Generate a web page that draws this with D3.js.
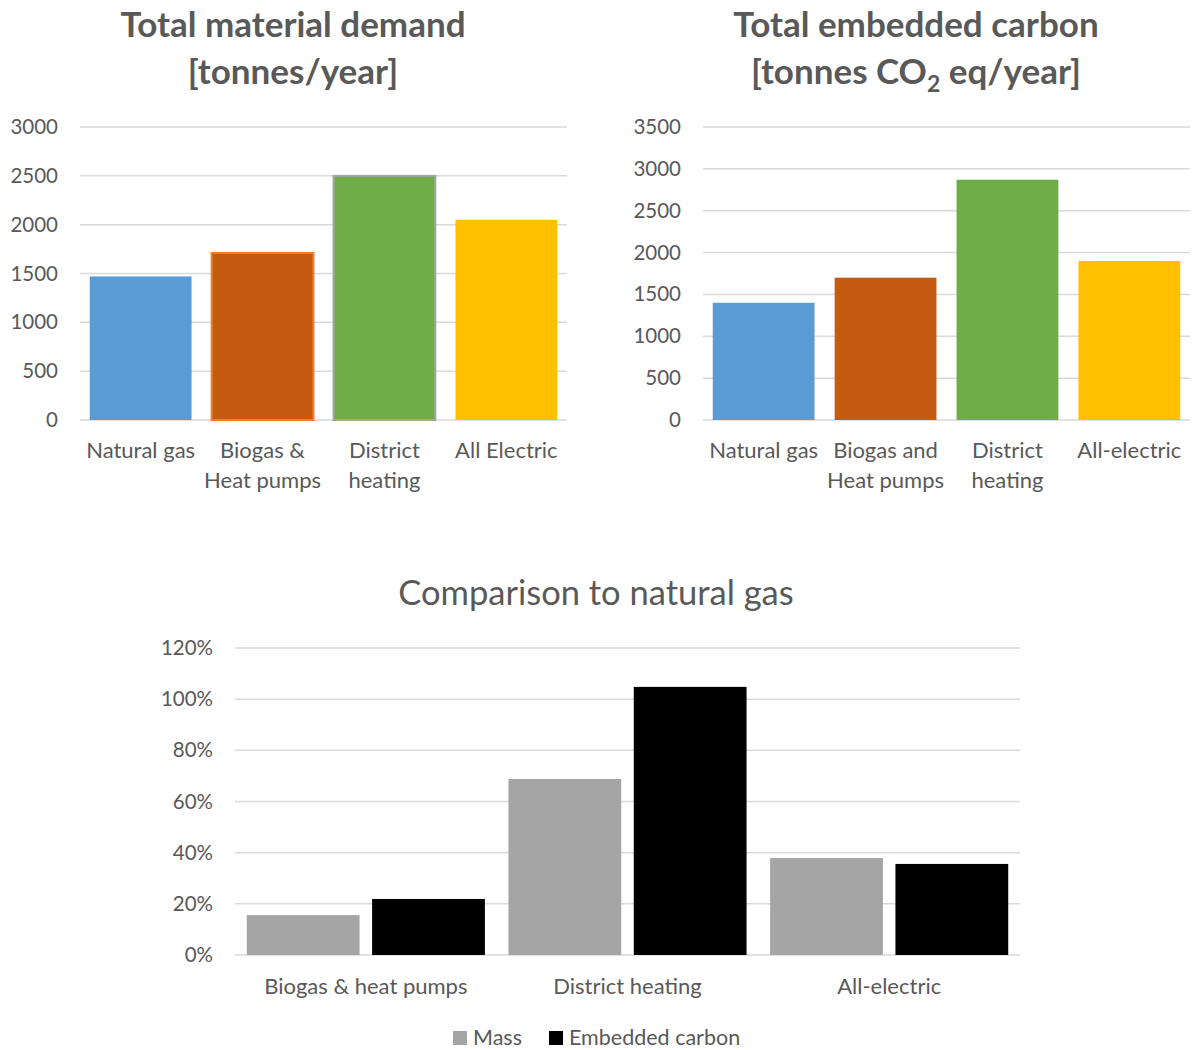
<!DOCTYPE html>
<html>
<head>
<meta charset="utf-8">
<script src="https://cdn.jsdelivr.net/npm/d3@7"></script>
<style>
  html, body { margin: 0; padding: 0; background: #fff; }
  svg { display: block; font-family: Lato, "Open Sans", sans-serif; }
</style>
</head>
<body>
<svg id="chart" width="1192" height="1050"></svg>
<script>
// Heating options and their annual totals
const demandCategories = [["Natural gas"], ["Biogas &", "Heat pumps"], ["District", "heating"], ["All Electric"]];
const demandValues = [1470, 1710, 2500, 2050];
const demandTicks = [0, 500, 1000, 1500, 2000, 2500, 3000];

const carbonCategories = [["Natural gas"], ["Biogas and", "Heat pumps"], ["District", "heating"], ["All-electric"]];
const carbonValues = [1400, 1700, 2870, 1900];
const carbonTicks = [0, 500, 1000, 1500, 2000, 2500, 3000, 3500];

const optionFills = ["#5B9BD5", "#C55A11", "#70AD47", "#FFC000"];
const demandStrokes = ["none", "#ED7D31", "#A5A5A5", "none"];
const carbonStrokes = ["none", "none", "none", "none"];

// Relative to natural gas
const comparisonCategories = ["Biogas & heat pumps", "District heating", "All-electric"];
const seriesNames = ["Mass", "Embedded carbon"];
const massShare = [0.156, 0.688, 0.379];
const carbonShare = [0.219, 1.048, 0.356];
const shareTicks = [0, 0.2, 0.4, 0.6, 0.8, 1.0, 1.2];
const seriesColors = ["#A5A5A5", "#000000"];

const svg = d3.select("#chart");
const textColor = "#595959";
const gridColor = "#D9D9D9";

function barPanel({ left, right, top, bottom, categories, values, ticks, strokes, titleLines, titleX, subscript }) {
  const g = svg.append("g");
  const x = d3.scaleBand().domain(d3.range(categories.length)).range([left, right]).paddingInner(0.165).paddingOuter(0.08);
  const y = d3.scaleLinear().domain([0, d3.max(ticks)]).range([bottom, top]);

  // gridlines
  g.append("g").selectAll("line").data(ticks).join("line")
    .attr("x1", left).attr("x2", right)
    .attr("y1", d => y(d)).attr("y2", d => y(d))
    .attr("stroke", gridColor).attr("stroke-width", 1.5);

  // y tick labels
  const yAxis = d3.axisLeft(y).tickValues(ticks).tickSize(0).tickPadding(0).tickFormat(d3.format("d"));
  const ya = g.append("g").attr("transform", `translate(${left - 22},0)`).call(yAxis);
  ya.select(".domain").remove();
  ya.selectAll("text").attr("fill", textColor).style("font-size", "20.5px").style("font-family", "Lato, sans-serif");

  // bars
  g.append("g").selectAll("rect").data(values).join("rect")
    .attr("x", (d, i) => x(i))
    .attr("width", x.bandwidth())
    .attr("y", d => y(d))
    .attr("height", d => y(0) - y(d))
    .attr("fill", (d, i) => optionFills[i])
    .attr("stroke", (d, i) => strokes[i])
    .attr("stroke-width", 2);

  // category labels
  const cl = g.append("g").selectAll("text").data(categories).join("text")
    .attr("x", (d, i) => x(i) + x.bandwidth() / 2)
    .attr("y", bottom + 38)
    .attr("text-anchor", "middle")
    .attr("fill", textColor)
    .style("font-size", "22px");
  cl.selectAll("tspan").data(d => d).join("tspan")
    .attr("x", function () { return this.parentNode.getAttribute("x"); })
    .attr("dy", (d, i) => i === 0 ? 0 : 30)
    .text(d => d);

  // title
  g.append("text").attr("x", titleX).attr("y", 37).attr("text-anchor", "middle")
    .attr("fill", textColor).style("font-size", "35px").style("font-weight", "bold")
    .text(titleLines[0]);
  const t2 = g.append("text").attr("x", titleX).attr("y", 84).attr("text-anchor", "middle")
    .attr("fill", textColor).style("font-size", "35px").style("font-weight", "bold");
  if (subscript) {
    t2.append("tspan").text(subscript[0]);
    t2.append("tspan").attr("dy", 8).style("font-size", "23px").text(subscript[1]);
    t2.append("tspan").attr("dy", -8).text(subscript[2]);
  } else {
    t2.text(titleLines[1]);
  }
}

barPanel({
  left: 80, right: 567, top: 127, bottom: 420,
  categories: demandCategories, values: demandValues, ticks: demandTicks, strokes: demandStrokes,
  titleLines: ["Total material demand", "[tonnes/year]"], titleX: 293
});

barPanel({
  left: 703, right: 1190, top: 127, bottom: 420,
  categories: carbonCategories, values: carbonValues, ticks: carbonTicks, strokes: carbonStrokes,
  titleLines: ["Total embedded carbon", ""], titleX: 916,
  subscript: ["[tonnes CO", "2", " eq/year]"]
});

// Comparison chart
(function () {
  const left = 235, right = 1020, top = 648, bottom = 955;
  const g = svg.append("g");
  const x0 = d3.scaleBand().domain(comparisonCategories).range([left, right]).paddingInner(0.09).paddingOuter(0.045);
  const x1 = d3.scaleBand().domain(seriesNames).range([0, x0.bandwidth()]).paddingInner(0.1);
  const y = d3.scaleLinear().domain([0, 1.2]).range([bottom, top]);

  g.append("g").selectAll("line").data(shareTicks).join("line")
    .attr("x1", left).attr("x2", right)
    .attr("y1", d => y(d)).attr("y2", d => y(d))
    .attr("stroke", gridColor).attr("stroke-width", 1.5);

  const yAxis = d3.axisLeft(y).tickValues(shareTicks).tickSize(0).tickPadding(0).tickFormat(d3.format(".0%"));
  const ya = g.append("g").attr("transform", `translate(${left - 22},0)`).call(yAxis);
  ya.select(".domain").remove();
  ya.selectAll("text").attr("fill", textColor).style("font-size", "20.5px").style("font-family", "Lato, sans-serif");

  const rows = comparisonCategories.map((c, i) => ({ cat: c, vals: [massShare[i], carbonShare[i]] }));
  g.append("g").selectAll("g").data(rows).join("g")
    .attr("transform", d => `translate(${x0(d.cat)},0)`)
    .selectAll("rect").data(d => d.vals.map((v, k) => ({ k, v }))).join("rect")
    .attr("x", d => x1(seriesNames[d.k]))
    .attr("width", x1.bandwidth())
    .attr("y", d => y(d.v))
    .attr("height", d => y(0) - y(d.v))
    .attr("fill", d => seriesColors[d.k]);

  g.append("g").selectAll("text").data(comparisonCategories).join("text")
    .attr("x", d => x0(d) + x0.bandwidth() / 2)
    .attr("y", bottom + 39)
    .attr("text-anchor", "middle").attr("fill", textColor)
    .style("font-size", "22px").text(d => d);

  g.append("text").attr("x", 596).attr("y", 605).attr("text-anchor", "middle")
    .attr("fill", textColor).style("font-size", "34.5px").text("Comparison to natural gas");

  // legend
  const legendX = [453, 549];
  const lg = g.append("g").selectAll("g").data(seriesNames).join("g")
    .attr("transform", (d, i) => `translate(${legendX[i]},1031)`);
  lg.append("rect").attr("width", 14).attr("height", 14).attr("fill", (d, i) => seriesColors[i]);
  lg.append("text").attr("x", 20).attr("y", 14).attr("fill", textColor).style("font-size", "21.5px").text(d => d);
})();
</script>
</body>
</html>
